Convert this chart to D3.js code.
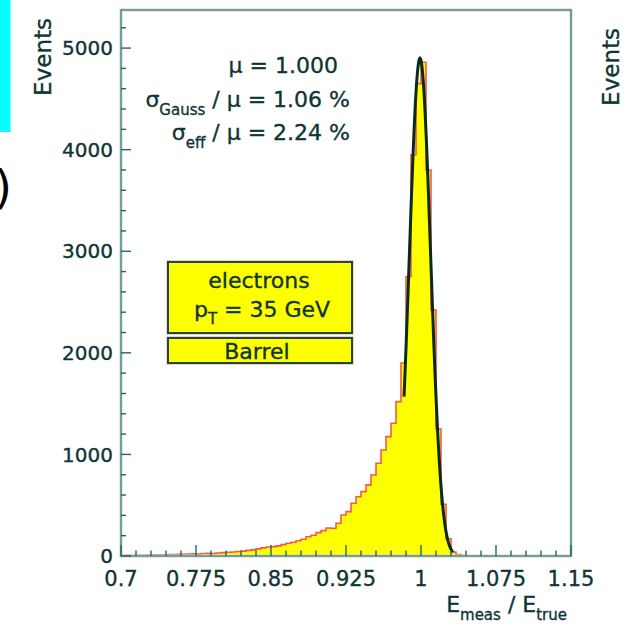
<!DOCTYPE html>
<html>
<head>
<meta charset="utf-8">
<script src="https://cdn.jsdelivr.net/npm/d3@7"></script>
<style>
    body { margin: 0; background: #fff; }
    svg { display: block; }
    text { font-family: "DejaVu Sans", sans-serif; fill: #0f3535; stroke: #0f3535; stroke-width: 0.35px; }
</style>
</head>
<body>
<div id="chart"></div>
<script>
// bin lower edges go from 0.700 to 1.145 in steps of 0.005 (90 bins)
const binStart = 0.7;
const binWidth = 0.005;
const counts = [
    4, 6, 5, 8, 7, 9, 10, 12, 11, 14,
    15, 17, 16, 19, 21, 20, 24, 26, 25, 30,
    33, 37, 40, 44, 48, 55, 60, 70, 80, 88,
    92, 100, 112, 125, 135, 150, 165, 190, 205, 230,
    250, 275, 273, 322, 404, 437, 519, 584, 634, 700,
    798, 913, 1044, 1175, 1307, 1520, 1900, 2750, 3950, 4650,
    4860, 3800, 2420, 1250, 510, 170, 40, 15, 5, 0,
    0, 0, 0, 0, 0, 0, 0, 0, 0, 0,
    0, 0, 0, 0, 0, 0, 0, 0, 0, 0
];

// gaussian fit parameters
const fitMean = 0.999;
const fitSigma = 0.0106;
const fitAmp = 4900;
const fitRange = [0.983, 1.032];

const xTicks = [0.7, 0.775, 0.85, 0.925, 1, 1.075, 1.15];
const xTickLabels = ['0.7', '0.775', '0.85', '0.925', '1', '1.075', '1.15'];
const yTicks = [0, 1000, 2000, 3000, 4000, 5000];

const width = 631, height = 628;
const pLeft = 121, pRight = 571, pTop = 10, pBottom = 556;

const svg = d3.select('#chart').append('svg')
    .attr('width', width)
    .attr('height', height);

const x = d3.scaleLinear().domain([0.7, 1.15]).range([pLeft, pRight]);
const y = d3.scaleLinear().domain([0, 5375]).range([pBottom, pTop]);

// leftovers from the neighbouring slide
svg.append('rect').attr('x', 0).attr('y', 0).attr('width', 10.5).attr('height', 132).attr('fill', '#00ffff');
svg.append('text').attr('x', -6).attr('y', 203).attr('font-size', 46)
    .style('fill', '#000').style('stroke', 'none').text(')');
svg.append('text')
    .attr('transform', 'translate(619,28) rotate(-90)')
    .attr('text-anchor', 'end')
    .attr('font-size', 23)
    .text('Events');

// histogram
const bins = counts.map((c, i) => ({ x0: binStart + i * binWidth, x1: binStart + (i + 1) * binWidth, c }));
let pts = [[x(bins[0].x0), y(0)]];
bins.forEach(b => {
    pts.push([x(b.x0), y(b.c)]);
    pts.push([x(b.x1), y(b.c)]);
});
pts.push([x(bins[bins.length - 1].x1), y(0)]);

svg.append('path')
    .attr('d', d3.line()(pts) + 'Z')
    .attr('fill', '#ffff00')
    .attr('stroke', 'none');
svg.append('path')
    .attr('d', d3.line()(pts))
    .attr('fill', 'none')
    .attr('stroke', '#f25a4a')
    .attr('stroke-width', 1.6);

// fit curve
const fitX = d3.range(fitRange[0], fitRange[1] + 0.0001, 0.0005);
const fitLine = d3.line()
    .x(d => x(d))
    .y(d => y(fitAmp * Math.exp(-0.5 * Math.pow((d - fitMean) / fitSigma, 2))));
svg.append('path')
    .datum(fitX)
    .attr('d', fitLine)
    .attr('fill', 'none')
    .attr('stroke', '#0b2a1e')
    .attr('stroke-width', 3);

// frame with the pinkish fringe of the scan
svg.append('rect')
    .attr('x', pLeft).attr('y', pTop)
    .attr('width', pRight - pLeft).attr('height', pBottom - pTop)
    .attr('fill', 'none').attr('stroke', '#f6c0c0').attr('stroke-width', 3);
svg.append('rect')
    .attr('x', pLeft).attr('y', pTop)
    .attr('width', pRight - pLeft).attr('height', pBottom - pTop)
    .attr('fill', 'none').attr('stroke', '#3f9f99').attr('stroke-width', 1.6);

// ticks
const tickColor = '#1f6a5e';
const xMinor = d3.range(0.7, 1.1501, 0.015);
svg.selectAll('.xtick').data(xMinor).enter().append('line')
    .attr('x1', d => x(d)).attr('x2', d => x(d))
    .attr('y1', pBottom)
    .attr('y2', (d, i) => pBottom - (i % 5 === 0 ? 11 : 5.5))
    .attr('stroke', tickColor).attr('stroke-width', 1.4);

const yMinor = d3.range(0, 5201, 200);
svg.selectAll('.ytick').data(yMinor).enter().append('line')
    .attr('y1', d => y(d)).attr('y2', d => y(d))
    .attr('x1', pLeft)
    .attr('x2', (d, i) => pLeft + (i % 5 === 0 ? 10 : 5))
    .attr('stroke', tickColor).attr('stroke-width', 1.4);

// tick labels
svg.selectAll('.xlab').data(xTicks).enter().append('text')
    .attr('x', d => x(d))
    .attr('y', 586)
    .attr('text-anchor', 'middle')
    .attr('font-size', 21)
    .text((d, i) => xTickLabels[i]);

svg.selectAll('.ylab').data(yTicks).enter().append('text')
    .attr('x', 113)
    .attr('y', d => y(d))
    .attr('dy', '0.36em')
    .attr('text-anchor', 'end')
    .attr('font-size', 20)
    .text(d => d);

// axis titles
svg.append('text')
    .attr('transform', 'translate(51,18) rotate(-90)')
    .attr('text-anchor', 'end')
    .attr('font-size', 23)
    .text('Events');

const xt = svg.append('text')
    .attr('x', 567).attr('y', 612)
    .attr('text-anchor', 'end')
    .attr('font-size', 22);
xt.append('tspan').text('E');
xt.append('tspan').attr('font-size', 15).attr('dy', 8).text('meas');
xt.append('tspan').attr('dy', -8).text(' / E');
xt.append('tspan').attr('font-size', 15).attr('dy', 8).text('true');

// fit results
svg.append('text').attr('x', 338).attr('y', 73).attr('text-anchor', 'end').attr('font-size', 22)
    .text('\u03bc = 1.000');
const t2 = svg.append('text').attr('x', 350).attr('y', 107).attr('text-anchor', 'end').attr('font-size', 22);
t2.append('tspan').text('\u03c3');
t2.append('tspan').attr('font-size', 15).attr('dy', 8).text('Gauss');
t2.append('tspan').attr('dy', -8).text(' / \u03bc = 1.06 %');
const t3 = svg.append('text').attr('x', 350).attr('y', 140).attr('text-anchor', 'end').attr('font-size', 22);
t3.append('tspan').text('\u03c3');
t3.append('tspan').attr('font-size', 15).attr('dy', 8).text('eff');
t3.append('tspan').attr('dy', -8).text(' / \u03bc = 2.24 %');

// labels boxes
function box(y0, h) {
    svg.append('rect').attr('x', 168).attr('y', y0).attr('width', 184).attr('height', h)
        .attr('fill', '#ffff00').attr('stroke', '#f6c0c0').attr('stroke-width', 3.5);
    svg.append('rect').attr('x', 168).attr('y', y0).attr('width', 184).attr('height', h)
        .attr('fill', '#ffff00').attr('stroke', '#1d4a36').attr('stroke-width', 2);
}
box(262, 71);
box(338, 25);

svg.append('text').attr('x', 259).attr('y', 288).attr('text-anchor', 'middle').attr('font-size', 22)
    .text('electrons');
const pt = svg.append('text').attr('x', 262).attr('y', 317).attr('text-anchor', 'middle').attr('font-size', 22);
pt.append('tspan').text('p');
pt.append('tspan').attr('font-size', 15).attr('dy', 7).text('T');
pt.append('tspan').attr('dy', -7).text(' = 35 GeV');
svg.append('text').attr('x', 257).attr('y', 359).attr('text-anchor', 'middle').attr('font-size', 22)
    .text('Barrel');
</script>
</body>
</html>
